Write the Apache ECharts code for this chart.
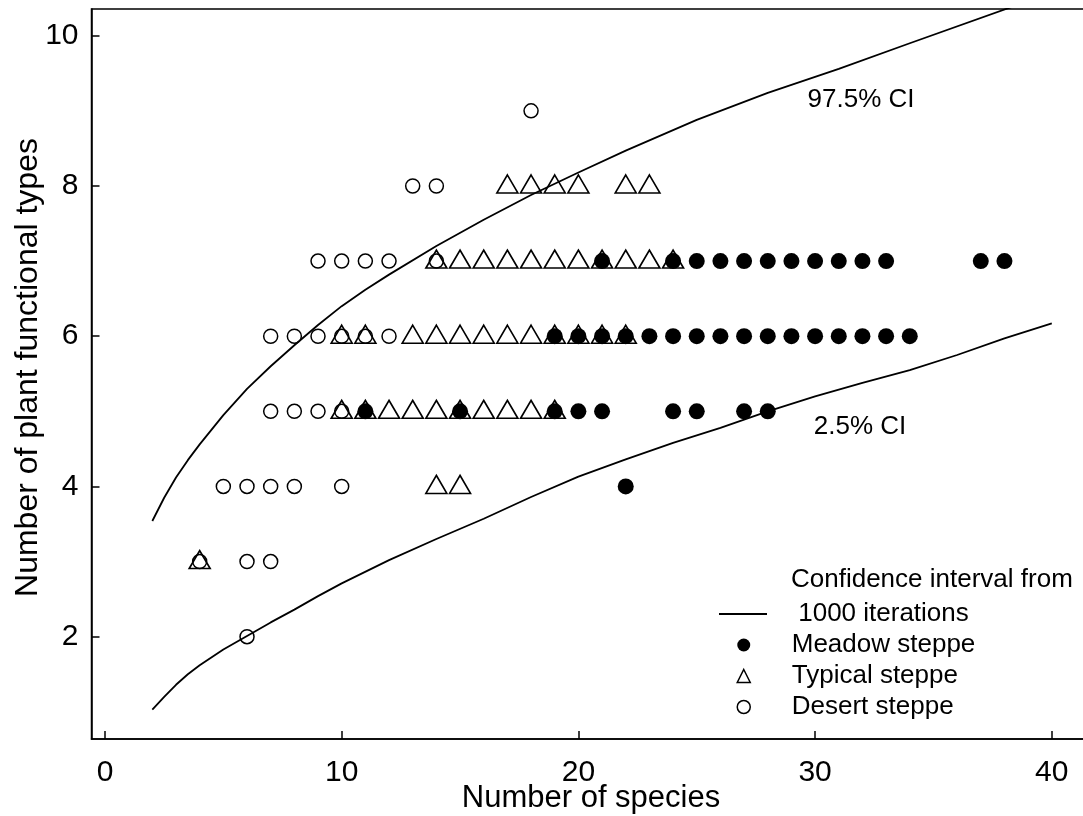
<!DOCTYPE html>
<html>
<head>
<meta charset="utf-8">
<script src="https://cdn.jsdelivr.net/npm/echarts@6/dist/echarts.min.js"></script>
<style>
html,body{margin:0;padding:0;background:#fff;}
#chart{width:1083px;height:816px;}
</style>
</head>
<body>
<div id="chart"></div>
<script>
// ---- data ----
const xTicks = [0, 10, 20, 30, 40];
const yTicks = [2, 4, 6, 8, 10];

const meadow = [
  [21,7],[24,7],[25,7],[26,7],[27,7],[28,7],[29,7],[30,7],[31,7],[32,7],[33,7],[37,7],[38,7],
  [19,6],[20,6],[21,6],[22,6],[23,6],[24,6],[25,6],[26,6],[27,6],[28,6],[29,6],[30,6],[31,6],[32,6],[33,6],[34,6],
  [11,5],[15,5],[19,5],[20,5],[21,5],[24,5],[25,5],[27,5],[28,5],
  [22,4]
];
const typical = [
  [17,8],[18,8],[19,8],[20,8],[22,8],[23,8],
  [14,7],[15,7],[16,7],[17,7],[18,7],[19,7],[20,7],[21,7],[22,7],[23,7],[24,7],
  [10,6],[11,6],[13,6],[14,6],[15,6],[16,6],[17,6],[18,6],[19,6],[20,6],[21,6],[22,6],
  [10,5],[11,5],[12,5],[13,5],[14,5],[15,5],[16,5],[17,5],[18,5],[19,5],
  [14,4],[15,4],
  [4,3]
];
const desert = [
  [18,9],
  [13,8],[14,8],
  [9,7],[10,7],[11,7],[12,7],[14,7],
  [7,6],[8,6],[9,6],[10,6],[11,6],[12,6],
  [7,5],[8,5],[9,5],[10,5],
  [5,4],[6,4],[7,4],[8,4],[10,4],
  [4,3],[6,3],[7,3],
  [6,2]
];
const upperCI = [
  [2,3.54],[2.5,3.85],[3,4.12],[3.5,4.35],[4,4.56],[5,4.95],[6,5.3],[7,5.6],[8,5.88],[9,6.15],[10,6.4],
  [11,6.62],[12,6.82],[14,7.2],[16,7.55],[18,7.88],[20,8.18],[22,8.47],[25,8.88],[28,9.24],
  [31,9.56],[34,9.9],[38.1,10.36],[40,10.56]
];
const lowerCI = [
  [2,1.03],[2.5,1.2],[3,1.36],[3.5,1.5],[4,1.62],[5,1.83],[6,2.01],[7,2.19],[8,2.36],[9,2.54],[10,2.71],
  [12,3.02],[14,3.3],[16,3.57],[18,3.86],[20,4.13],[22,4.36],[24,4.58],[26,4.78],[28,5.0],[30,5.2],[32,5.38],
  [34,5.55],[36,5.75],[38,5.97],[40,6.17]
];
const labelUpper = {coord: [31.94, 9.15], text: '97.5% CI'};
const labelLower = {coord: [31.9, 4.79], text: '2.5% CI'};
const ciName = ' 1000 iterations';
const ciHeader = 'Confidence interval from';

// ---- chart ----
const FONT = '"Liberation Sans", Arial, sans-serif';
const chart = echarts.init(document.getElementById('chart'), null, {renderer: 'canvas'});

function annot(l) {
  return {
    symbol: 'circle', symbolSize: 1, silent: true,
    itemStyle: {color: 'rgba(0,0,0,0)'},
    label: {show: true, position: 'inside', formatter: l.text, color: '#000', fontSize: 26, fontFamily: FONT},
    data: [{coord: l.coord}]
  };
}

const option = {
  animation: false,
  backgroundColor: '#fff',
  grid: {left: 91.5, top: 9, width: 1010, height: 730, show: true, borderColor: '#000', borderWidth: 1.5,
         backgroundColor: 'transparent', containLabel: false, outerBoundsMode: 'none'},
  xAxis: {
    type: 'value', min: -0.57, max: 42.1,
    splitLine: {show: false},
    axisLine: {show: true, onZero: false, lineStyle: {color: '#000', width: 1.5}},
    axisTick: {show: true, inside: true, length: 8, lineStyle: {color: '#000', width: 1.5}, customValues: xTicks},
    axisLabel: {show: true, customValues: xTicks, color: '#000', fontSize: 30, fontFamily: FONT, margin: 19},
    name: 'Number of species', nameLocation: 'middle', nameGap: 44, nameMoveOverlap: false,
    nameTextStyle: {color: '#000', fontSize: 31, fontFamily: FONT, padding: [0, 11, 0, 0]}
  },
  yAxis: {
    type: 'value', min: 0.638, max: 10.356,
    splitLine: {show: false},
    axisLine: {show: true, onZero: false, lineStyle: {color: '#000', width: 1.5}},
    axisTick: {show: true, inside: true, length: 8, lineStyle: {color: '#000', width: 1.5}, customValues: yTicks},
    axisLabel: {show: true, customValues: yTicks, color: '#000', fontSize: 30, fontFamily: FONT, margin: 13},
    name: 'Number of plant functional types', nameLocation: 'middle', nameGap: 47, nameMoveOverlap: false,
    nameTextStyle: {color: '#000', fontSize: 32, fontFamily: FONT, padding: [0, 0, 0, 13]}
  },
  legend: [
    {
      data: [{name: ciName, icon: 'rect', itemStyle: {color: '#000', borderWidth: 0}}],
      left: 719, top: 598.5, padding: 0, orient: 'vertical',
      itemWidth: 48, itemHeight: 1.8, itemGap: 0, selectedMode: false,
      formatter: n => '{sp|}' + n,
      textStyle: {color: '#000', fontSize: 26, fontFamily: FONT, lineHeight: 31, rich: {sp: {width: 19, lineHeight: 31}}}
    },
    {
      data: [
        {name: 'Meadow steppe', icon: 'circle', itemStyle: {color: '#000', borderWidth: 0, opacity: 1}},
        {name: 'Typical steppe', icon: 'triangle', itemStyle: {color: 'rgba(0,0,0,0)', borderColor: '#000', borderWidth: 1.5, opacity: 1}},
        {name: 'Desert steppe', icon: 'circle', itemStyle: {color: 'rgba(0,0,0,0)', borderColor: '#000', borderWidth: 1.5, opacity: 1}}
      ],
      left: 736.5, top: 629.5, padding: 0, orient: 'vertical',
      itemWidth: 13, itemHeight: 13, itemGap: 0, selectedMode: false,
      formatter: n => '{sp|}' + n,
      textStyle: {color: '#000', fontSize: 26, fontFamily: FONT, lineHeight: 31, rich: {sp: {width: 36.5, lineHeight: 31}}}
    }
  ],
  graphic: [
    {type: 'text', left: 791, top: 566.5, silent: true,
     style: {text: ciHeader, fill: '#000', font: '26px ' + FONT}}
  ],
  series: [
    {
      name: ciName, type: 'line', data: upperCI, smooth: false,
      symbol: 'none', showSymbol: false, lineStyle: {color: '#000', width: 1.8}, itemStyle: {color: '#000'},
      clip: true, z: 1, markPoint: annot(labelUpper)
    },
    {
      name: ciName, type: 'line', data: lowerCI, smooth: false,
      symbol: 'none', showSymbol: false, lineStyle: {color: '#000', width: 1.8}, itemStyle: {color: '#000'},
      clip: true, z: 1, markPoint: annot(labelLower)
    },
    {
      name: 'Desert steppe', type: 'scatter', data: desert, symbol: 'circle', symbolSize: 14,
      itemStyle: {color: 'rgba(0,0,0,0)', borderColor: '#000', borderWidth: 1.5, opacity: 1}, z: 2
    },
    {
      name: 'Meadow steppe', type: 'scatter', data: meadow, symbol: 'circle', symbolSize: 16,
      itemStyle: {color: '#000', borderWidth: 0, opacity: 1}, z: 3
    },
    {
      name: 'Typical steppe', type: 'scatter', data: typical, symbol: 'triangle', symbolSize: [21, 18],
      symbolOffset: [0, -2],
      itemStyle: {color: 'rgba(0,0,0,0)', borderColor: '#000', borderWidth: 1.6, opacity: 1}, z: 4
    }
  ]
};
chart.setOption(option);
</script>
</body>
</html>
